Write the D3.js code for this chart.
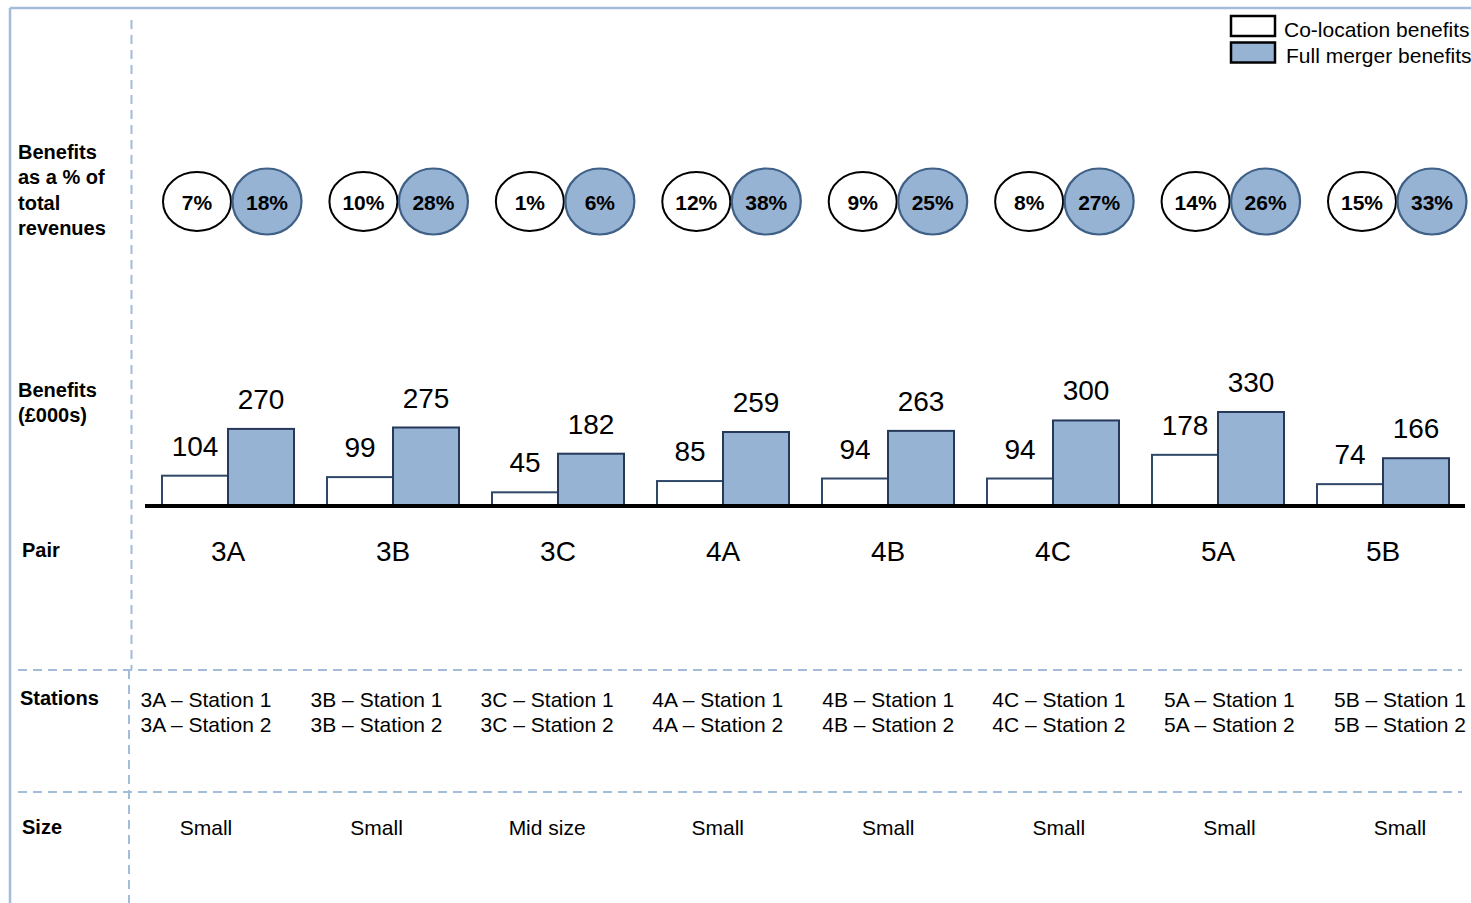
<!DOCTYPE html>
<html>
<head>
<meta charset="utf-8">
<script src="https://cdn.jsdelivr.net/npm/d3@7"></script>
<style>
  body { margin: 0; background: #fff; }
  svg { display: block; font-family: "Liberation Sans", Arial, sans-serif; }
</style>
</head>
<body>
<svg id="chart"></svg>
<script>
var pairs = ["3A", "3B", "3C", "4A", "4B", "4C", "5A", "5B"];
var colocation = [104, 99, 45, 85, 94, 94, 178, 74];
var fullMerger = [270, 275, 182, 259, 263, 300, 330, 166];
var colocationPct = ["7%", "10%", "1%", "12%", "9%", "8%", "14%", "15%"];
var fullMergerPct = ["18%", "28%", "6%", "38%", "25%", "27%", "26%", "33%"];
var sizes = ["Small", "Small", "Mid size", "Small", "Small", "Small", "Small", "Small"];
var seriesNames = ["Co-location benefits", "Full merger benefits"];

document.addEventListener("DOMContentLoaded", () => {
  const W = 1471, H = 903;
  const frameColor = "#a3bcd9";
  const blueFill = "#97b3d3";

  var svg = d3.select("#chart").attr("width", W).attr("height", H);

  // frame and grid lines
  svg.append("line").attr("x1", 10).attr("x2", W).attr("y1", 8).attr("y2", 8)
    .style("stroke", frameColor).style("stroke-width", 2.5);
  svg.append("line").attr("x1", 10).attr("x2", 10).attr("y1", 8).attr("y2", H)
    .style("stroke", frameColor).style("stroke-width", 2.5);

  function dashed(x1, y1, x2, y2) {
    svg.append("line")
      .attr("x1", x1).attr("y1", y1).attr("x2", x2).attr("y2", y2)
      .style("stroke", frameColor).style("stroke-width", 2)
      .style("stroke-dasharray", "9,6");
  }
  dashed(131.5, 20, 131.5, 670);
  dashed(129, 670, 129, H);
  dashed(18, 670, 1462, 670);
  dashed(18, 792, 1462, 792);

  // row labels
  var rowLabels = [
    { lines: ["Benefits", "as a % of", "total", "revenues"], x: 18, y: 159 },
    { lines: ["Benefits", "(\u00a3000s)"], x: 18, y: 397 },
    { lines: ["Pair"], x: 22, y: 557 },
    { lines: ["Stations"], x: 20, y: 705 },
    { lines: ["Size"], x: 22, y: 834 }
  ];
  rowLabels.forEach(r => {
    var t = svg.append("text").attr("x", r.x).attr("y", r.y)
      .style("font-size", "20px").style("font-weight", "bold");
    r.lines.forEach((l, i) => {
      t.append("tspan").attr("x", r.x).attr("dy", i === 0 ? 0 : 25.3).text(l);
    });
  });

  // bar scales
  var x0 = d3.scaleBand().domain(pairs).range([162, 1449]).paddingInner(0.2);
  var x1 = d3.scaleBand().domain([0, 1]).range([0, x0.bandwidth()]);
  var y = d3.scaleLinear().domain([0, 330]).range([505, 412]);

  var groups = svg.selectAll("g.pair").data(pairs).join("g")
    .attr("class", "pair")
    .attr("transform", d => `translate(${x0(d)},0)`);

  groups.each(function (p, i) {
    var g = d3.select(this);
    var vals = [colocation[i], fullMerger[i]];
    vals.forEach((v, k) => {
      g.append("rect")
        .attr("x", x1(k)).attr("y", y(v))
        .attr("width", x1.bandwidth()).attr("height", y(0) - y(v))
        .style("fill", k === 0 ? "#fff" : blueFill)
        .style("stroke", k === 0 ? "#2f4868" : "#26395a")
        .style("stroke-width", 2);
      g.append("text")
        .attr("x", x1(k) + x1.bandwidth() / 2)
        .attr("y", y(v) - 20)
        .attr("text-anchor", "middle")
        .style("font-size", "28px")
        .text(v);
    });
    g.append("text")
      .attr("x", x0.bandwidth() / 2).attr("y", 561)
      .attr("text-anchor", "middle")
      .style("font-size", "28px")
      .text(p);
  });

  // baseline
  svg.append("line").attr("x1", 145).attr("x2", 1465).attr("y1", y(0) + 1).attr("y2", y(0) + 1)
    .style("stroke", "#000").style("stroke-width", 4);

  // percentage ellipses
  var xe = d3.scalePoint().domain(pairs).range([232, 1397]);
  pairs.forEach((p, i) => {
    var cx = xe(p);
    svg.append("ellipse")
      .attr("cx", cx - 35).attr("cy", 201.5).attr("rx", 34).attr("ry", 29.5)
      .style("fill", "#fff").style("stroke", "#000").style("stroke-width", 2);
    svg.append("ellipse")
      .attr("cx", cx + 35).attr("cy", 201.5).attr("rx", 34.5).attr("ry", 33)
      .style("fill", blueFill).style("stroke", "#3f6087").style("stroke-width", 2.2);
    svg.append("text").attr("x", cx - 35).attr("y", 209.5).attr("text-anchor", "middle")
      .style("font-size", "21px").style("font-weight", "bold").text(colocationPct[i]);
    svg.append("text").attr("x", cx + 35).attr("y", 209.5).attr("text-anchor", "middle")
      .style("font-size", "21px").style("font-weight", "bold").text(fullMergerPct[i]);
  });

  // stations and size rows
  var xs = d3.scalePoint().domain(pairs).range([206, 1400]);
  pairs.forEach((p, i) => {
    [1, 2].forEach((n, k) => {
      svg.append("text")
        .attr("x", xs(p)).attr("y", 707 + k * 25)
        .attr("text-anchor", "middle")
        .style("font-size", "21px")
        .text(`${p} \u2013 Station ${n}`);
    });
    svg.append("text")
      .attr("x", xs(p)).attr("y", 835)
      .attr("text-anchor", "middle")
      .style("font-size", "21px")
      .text(sizes[i]);
  });

  // legend
  var legend = svg.append("g");
  seriesNames.forEach((s, i) => {
    legend.append("rect")
      .attr("x", 1231).attr("y", 16 + i * 26.5).attr("width", 44).attr("height", 20)
      .style("fill", i === 0 ? "#fff" : blueFill)
      .style("stroke", "#000").style("stroke-width", 2.5);
    legend.append("text")
      .attr("x", 1284 + i * 2).attr("y", 37 + i * 26)
      .style("font-size", "21px")
      .text(s);
  });
});
</script>
</body>
</html>
